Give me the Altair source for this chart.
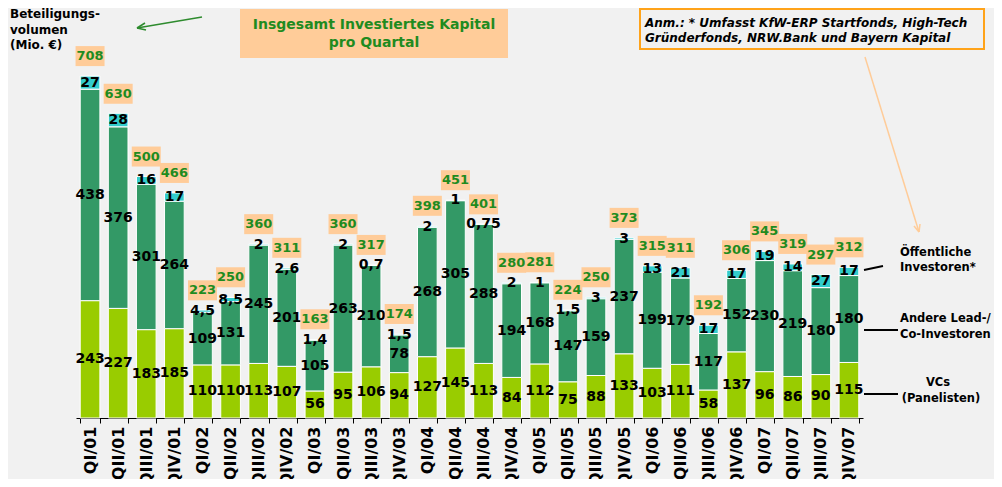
import altair as alt
import pandas as pd

quarters = ["QI/01", "QII/01", "QIII/01", "QIV/01", "QI/02", "QII/02", "QIII/02", "QIV/02",
            "QI/03", "QII/03", "QIII/03", "QIV/03", "QI/04", "QII/04", "QIII/04", "QIV/04",
            "QI/05", "QII/05", "QIII/05", "QIV/05", "QI/06", "QII/06", "QIII/06", "QIV/06",
            "QI/07", "QII/07", "QIII/07", "QIV/07"]
vcs = [243, 227, 183, 185, 110, 110, 113, 107, 56, 95, 106, 94, 127, 145, 113, 84,
       112, 75, 88, 133, 103, 111, 58, 137, 96, 86, 90, 115]
andere = [438, 376, 301, 264, 109, 131, 245, 201, 105, 263, 210, 78, 268, 305, 288, 194,
          168, 147, 159, 237, 199, 179, 117, 152, 230, 219, 180, 180]
oeff = [27, 28, 16, 17, 4.5, 8.5, 2, 2.6, 1.4, 2, 0.7, 1.5, 2, 1, 0.75, 2,
        1, 1.5, 3, 3, 13, 21, 17, 17, 19, 14, 27, 17]
oeff_labels = ["27", "28", "16", "17", "4,5", "8,5", "2", "2,6", "1,4", "2", "0,7", "1,5", "2", "1", "0,75", "2",
               "1", "1,5", "3", "3", "13", "21", "17", "17", "19", "14", "27", "17"]
totals = [708, 630, 500, 466, 223, 250, 360, 311, 163, 360, 317, 174, 398, 451, 401, 280,
          281, 224, 250, 373, 315, 311, 192, 306, 345, 319, 297, 312]
series = ["VCs (Panelisten)", "Andere Lead-/Co-Investoren", "Öffentliche Investoren*"]
colors = ["#99CC00", "#339966", "#33CCCC"]

GREEN = "#1F8B1F"
PEACH = "#FFCC99"
FONT = "DejaVu Sans"

rows = []
for i, q in enumerate(quarters):
    base = 0.0
    for k, (vals, labs) in enumerate([(vcs, [str(v) for v in vcs]),
                                      (andere, [str(v) for v in andere]),
                                      (oeff, oeff_labels)]):
        v = vals[i]
        rows.append({"quarter": q, "series": series[k], "value": v, "order": k,
                     "mid": base + v / 2, "label": labs[i]})
        base += v
df = pd.DataFrame(rows)
tot = pd.DataFrame({"quarter": quarters, "total": totals})

yscale = alt.Scale(domain=[0, 849], nice=False, zero=True)
x_enc = alt.X("quarter:N", sort=quarters,
              scale=alt.Scale(paddingInner=0.3, paddingOuter=0.15),
              axis=alt.Axis(title=None, labelAngle=270, labelFontSize=16, labelFontWeight="bold",
                            labelColor="black", labelFont=FONT, tickBand="extent", tickSize=5,
                            tickColor="black", domainColor="black", labelPadding=3,
                            labelOverlap=False, grid=False))

bars = alt.Chart(df).mark_bar(stroke="white", strokeWidth=1).encode(
    x=x_enc,
    y=alt.Y("value:Q", stack="zero", scale=yscale, axis=None),
    color=alt.Color("series:N", scale=alt.Scale(domain=series, range=colors), legend=None),
    order=alt.Order("order:Q"),
)

seg_labels = alt.Chart(df).mark_text(fontSize=14, fontWeight="bold", color="black",
                                     font=FONT, baseline="middle").encode(
    x=x_enc,
    y=alt.Y("mid:Q", scale=yscale, axis=None),
    text="label:N",
)

boxes = alt.Chart(tot).mark_bar(width=29, yOffset=-30, y2Offset=-10, color=PEACH).encode(
    x=x_enc,
    y=alt.Y("total:Q", scale=yscale, axis=None),
    y2=alt.Y2("total:Q"),
)

tot_labels = alt.Chart(tot).mark_text(dy=-20, fontSize=13, fontWeight="bold", color=GREEN,
                                      font=FONT, baseline="middle").encode(
    x=x_enc,
    y=alt.Y("total:Q", scale=yscale, axis=None),
    text="total:Q",
)

one = pd.DataFrame({"a": [0]})


def txt(text, x, y, size=12, align="left", color="black", style="normal"):
    return alt.Chart(one).mark_text(fontSize=size, fontWeight="bold", align=align, color=color,
                                    font=FONT, baseline="middle", fontStyle=style).encode(
        x=alt.value(x), y=alt.value(y), text=alt.value(text))


def seg(x1, y1, x2, y2, color="black", w=2.0):
    return alt.Chart(one).mark_rule(color=color, strokeWidth=w).encode(
        x=alt.value(x1), y=alt.value(y1), x2=alt.value(x2), y2=alt.value(y2))


def box(x1, y1, x2, y2, fill, stroke=None):
    kw = {"fill": fill}
    if stroke:
        kw.update(stroke=stroke, strokeWidth=2)
    return alt.Chart(one).mark_rect(**kw).encode(
        x=alt.value(x1), y=alt.value(y1), x2=alt.value(x2), y2=alt.value(y2))


annots = [
    txt("Beteiligungs-", -66, 6),
    txt("volumen", -66, 22),
    txt("(Mio. €)", -66, 37),
    box(164, 1, 432, 50, PEACH),
    txt("Insgesamt Investiertes Kapital", 298, 17, size=14, align="center", color=GREEN),
    txt("pro Quartal", 298, 35, size=14, align="center", color=GREEN),
    box(564, 1, 908, 41, "#F1F1F1", stroke="#FFA31A"),
    txt("Anm.: * Umfasst KfW-ERP Startfonds, High-Tech", 569, 15, style="italic"),
    txt("Gründerfonds, NRW.Bank und Bayern Kapital", 569, 30, style="italic"),
    seg(789, 49, 843, 224, color=PEACH, w=1.5),
    seg(843, 224, 844, 216, color=PEACH, w=1.5),
    seg(843, 224, 838, 218, color=PEACH, w=1.5),
    seg(126, 9, 61, 20, color="#2E8B2E", w=1.5),
    seg(61, 20, 70, 22, color="#2E8B2E", w=1.5),
    seg(61, 20, 69, 15, color="#2E8B2E", w=1.5),
    seg(788, 262, 807, 258),
    txt("Öffentliche", 824, 245, size=11.5),
    txt("Investoren*", 824, 260, size=11.5),
    seg(788, 322, 822, 322),
    txt("Andere Lead-/", 824, 311, size=11.5),
    txt("Co-Investoren", 824, 327, size=11.5),
    seg(788, 386, 822, 386),
    txt("VCs", 862, 375, size=11.5, align="center"),
    txt("(Panelisten)", 865, 391, size=11.5, align="center"),
]

chart = alt.layer(bars, seg_labels, boxes, tot_labels, *annots).properties(
    width=787, height=410,
    padding={"left": 68, "top": 0, "right": 131, "bottom": 61},
    autosize=alt.AutoSizeParams(type="none"),
    background="#F1F1F1",
).configure(font=FONT).configure_view(stroke=None, strokeWidth=0)

chart.save("out.html", embed_options={"renderer": "svg", "actions": False})
